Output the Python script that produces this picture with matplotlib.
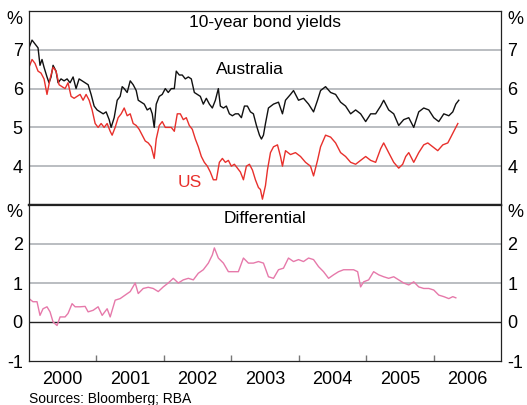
import numpy as np
import matplotlib
matplotlib.use('Agg')
import matplotlib.pyplot as plt

plt.rcParams['font.family'] = ['Liberation Sans', 'DejaVu Sans']
plt.rcParams['axes.unicode_minus'] = False

# 10-year bond yields, decimal years
aus_t = [2000.00, 2000.045, 2000.089, 2000.134, 2000.163, 2000.193, 2000.223, 2000.267, 2000.297, 2000.327,
         2000.357, 2000.401, 2000.431, 2000.475, 2000.520, 2000.565, 2000.609, 2000.654, 2000.698, 2000.743,
         2000.788, 2000.832, 2000.877, 2000.921, 2000.966, 2001.010, 2001.055, 2001.100, 2001.144, 2001.189,
         2001.218, 2001.263, 2001.308, 2001.352, 2001.382, 2001.412, 2001.456, 2001.501, 2001.545, 2001.590,
         2001.620, 2001.664, 2001.709, 2001.753, 2001.798, 2001.828, 2001.857, 2001.887, 2001.932, 2001.976,
         2002.021, 2002.065, 2002.110, 2002.155, 2002.184, 2002.229, 2002.273, 2002.318, 2002.363, 2002.407,
         2002.452, 2002.496, 2002.541, 2002.585, 2002.630, 2002.675, 2002.719, 2002.764, 2002.808, 2002.838,
         2002.883, 2002.927, 2002.972, 2003.016, 2003.061, 2003.105, 2003.150, 2003.195, 2003.239, 2003.284,
         2003.328, 2003.373, 2003.418, 2003.447, 2003.477, 2003.507, 2003.551, 2003.626, 2003.700, 2003.759,
         2003.804, 2003.878, 2003.923, 2003.997, 2004.071, 2004.146, 2004.220, 2004.279, 2004.324, 2004.398,
         2004.473, 2004.547, 2004.621, 2004.695, 2004.770, 2004.844, 2004.918, 2004.993, 2005.067, 2005.141,
         2005.215, 2005.260, 2005.334, 2005.409, 2005.483, 2005.557, 2005.632, 2005.706, 2005.780, 2005.854,
         2005.929, 2006.003, 2006.077, 2006.152, 2006.226, 2006.285, 2006.330, 2006.374]
aus = [7.05, 7.25, 7.15, 7.05, 6.6, 6.75, 6.55, 6.3, 6.15, 6.3,
       6.6, 6.45, 6.15, 6.25, 6.2, 6.25, 6.15, 6.3, 6.0, 6.25,
       6.2, 6.15, 6.1, 5.85, 5.55, 5.45, 5.4, 5.35, 5.4, 5.2,
       5.0, 5.25, 5.7, 5.8, 6.05, 6.0, 5.9, 6.2, 6.1, 5.95,
       5.7, 5.65, 5.6, 5.45, 5.5, 5.35, 5.0, 5.6, 5.8, 5.85,
       6.0, 5.9, 6.0, 6.0, 6.45, 6.35, 6.35, 6.25, 6.3, 6.25,
       5.9, 5.85, 5.8, 5.6, 5.75, 5.6, 5.5, 5.7, 6.0, 5.55,
       5.5, 5.55, 5.35, 5.3, 5.35, 5.35, 5.25, 5.55, 5.55, 5.4,
       5.35, 5.05, 4.8, 4.7, 4.8, 5.1, 5.5, 5.6, 5.65, 5.35,
       5.7, 5.85, 5.95, 5.7, 5.75, 5.6, 5.4, 5.7, 5.95, 6.05,
       5.9, 5.85, 5.65, 5.55, 5.35, 5.45, 5.35, 5.15, 5.35, 5.35,
       5.55, 5.7, 5.45, 5.35, 5.05, 5.2, 5.25, 5.0, 5.4, 5.5,
       5.45, 5.25, 5.15, 5.35, 5.3, 5.4, 5.6, 5.7]

us_t = [2000.00, 2000.045, 2000.089, 2000.134, 2000.178, 2000.223, 2000.267, 2000.312, 2000.357, 2000.401,
        2000.446, 2000.490, 2000.535, 2000.579, 2000.624, 2000.669, 2000.713, 2000.758, 2000.802, 2000.847,
        2000.892, 2000.936, 2000.981, 2001.025, 2001.070, 2001.114, 2001.159, 2001.204, 2001.233, 2001.278,
        2001.322, 2001.367, 2001.412, 2001.456, 2001.501, 2001.545, 2001.590, 2001.634, 2001.679, 2001.724,
        2001.768, 2001.813, 2001.857, 2001.887, 2001.932, 2001.976, 2002.021, 2002.065, 2002.110, 2002.155,
        2002.199, 2002.244, 2002.288, 2002.333, 2002.377, 2002.422, 2002.467, 2002.511, 2002.556, 2002.600,
        2002.645, 2002.689, 2002.734, 2002.779, 2002.823, 2002.868, 2002.912, 2002.957, 2003.001, 2003.046,
        2003.091, 2003.135, 2003.180, 2003.224, 2003.269, 2003.314, 2003.358, 2003.403, 2003.432, 2003.462,
        2003.507, 2003.536, 2003.581, 2003.626, 2003.685, 2003.730, 2003.759, 2003.804, 2003.878, 2003.952,
        2004.027, 2004.101, 2004.175, 2004.220, 2004.279, 2004.324, 2004.398, 2004.473, 2004.547, 2004.621,
        2004.695, 2004.770, 2004.844, 2004.918, 2004.993, 2005.067, 2005.141, 2005.215, 2005.260, 2005.334,
        2005.409, 2005.483, 2005.542, 2005.587, 2005.632, 2005.706, 2005.780, 2005.854, 2005.914, 2005.988,
        2006.062, 2006.137, 2006.211, 2006.256, 2006.300, 2006.360]
us = [6.55, 6.75, 6.65, 6.45, 6.4, 6.25, 5.85, 6.25, 6.55, 6.45,
      6.1, 6.05, 6.0, 6.15, 5.8, 5.75, 5.8, 5.85, 5.7, 5.85,
      5.7, 5.45, 5.1, 5.0, 5.1, 5.0, 5.1, 4.9, 4.8, 5.0,
      5.25, 5.35, 5.5, 5.3, 5.35, 5.1, 5.05, 4.95, 4.8, 4.65,
      4.6, 4.5, 4.2, 4.7, 5.05, 5.15, 5.0, 5.0, 5.0, 4.9,
      5.35, 5.35, 5.2, 5.25, 5.05, 4.95, 4.7, 4.5, 4.25, 4.1,
      4.0, 3.85, 3.65, 3.65, 4.1, 4.2, 4.1, 4.15, 4.0, 4.05,
      3.95, 3.85, 3.65, 4.0, 4.05, 3.9, 3.65, 3.45, 3.4, 3.15,
      3.5, 3.9, 4.35, 4.5, 4.55, 4.25, 4.0, 4.4, 4.3, 4.35,
      4.25, 4.1, 4.0, 3.75, 4.15, 4.5, 4.8, 4.75, 4.6, 4.35,
      4.25, 4.1, 4.05, 4.15, 4.25, 4.15, 4.1, 4.45, 4.6, 4.35,
      4.1, 3.95, 4.05, 4.25, 4.35, 4.1, 4.35, 4.55, 4.6, 4.5,
      4.4, 4.55, 4.6, 4.75, 4.9, 5.1]

diff_t = [2000.00, 2000.059, 2000.119, 2000.163, 2000.208, 2000.267, 2000.312, 2000.357, 2000.416, 2000.461,
          2000.535, 2000.579, 2000.639, 2000.684, 2000.758, 2000.832, 2000.877, 2000.951, 2001.025, 2001.085,
          2001.159, 2001.204, 2001.278, 2001.352, 2001.426, 2001.501, 2001.575, 2001.620, 2001.694, 2001.768,
          2001.842, 2001.917, 2001.991, 2002.065, 2002.140, 2002.214, 2002.288, 2002.363, 2002.437, 2002.511,
          2002.585, 2002.660, 2002.719, 2002.749, 2002.808, 2002.883, 2002.957, 2003.031, 2003.105, 2003.180,
          2003.254, 2003.328, 2003.403, 2003.477, 2003.551, 2003.626, 2003.700, 2003.774, 2003.848, 2003.923,
          2003.997, 2004.071, 2004.146, 2004.220, 2004.294, 2004.368, 2004.443, 2004.517, 2004.591, 2004.666,
          2004.740, 2004.814, 2004.874, 2004.918, 2004.963, 2005.037, 2005.111, 2005.186, 2005.260, 2005.334,
          2005.409, 2005.483, 2005.557, 2005.632, 2005.706, 2005.780, 2005.854, 2005.929, 2006.003, 2006.077,
          2006.152, 2006.226, 2006.285, 2006.330]
diff = [0.6, 0.52, 0.52, 0.17, 0.34, 0.39, 0.26, 0.0, -0.09, 0.13,
        0.13, 0.22, 0.47, 0.39, 0.39, 0.4, 0.26, 0.3, 0.39, 0.17,
        0.34, 0.13, 0.56, 0.6, 0.69, 0.78, 1.0, 0.73, 0.86, 0.89,
        0.86, 0.78, 0.9, 1.0, 1.12, 1.0, 1.08, 1.12, 1.08, 1.25,
        1.34, 1.51, 1.72, 1.9, 1.64, 1.51, 1.29, 1.29, 1.29, 1.64,
        1.51, 1.51, 1.55, 1.51, 1.16, 1.12, 1.34, 1.38, 1.64, 1.55,
        1.6, 1.55, 1.64, 1.6, 1.42, 1.29, 1.12, 1.21, 1.29, 1.34,
        1.34, 1.34, 1.29, 0.9, 1.03, 1.08, 1.29, 1.21, 1.16, 1.12,
        1.16, 1.08, 1.0, 0.95, 1.03, 0.9, 0.86, 0.86, 0.82, 0.69,
        0.65, 0.6, 0.65, 0.62]

years = [2000, 2001, 2002, 2003, 2004, 2005, 2006]
top_ticks = [4, 5, 6, 7]
bot_ticks = [-1, 0, 1, 2]

GRID = '#b4b8bc'
RED = '#e8302c'
PINK = '#e679aa'

fig = plt.figure(figsize=(5.27, 4.05), dpi=100)
L, W = 29 / 527, 472 / 527
ax1 = fig.add_axes([L, 200 / 405, W, 194 / 405])
ax2 = fig.add_axes([L, 44 / 405, W, 156 / 405])

for ax, ticks, lims in [(ax1, top_ticks, (3, 8)), (ax2, bot_ticks, (-1, 3))]:
    ax.set_xlim(2000, 2007)
    ax.set_ylim(*lims)
    ax.set_yticks(ticks)
    ax.tick_params(axis='y', length=0, labelsize=13, pad=4.5,
                   labelleft=True, labelright=True, right=False)
    for t in ticks:
        if lims[0] < t < lims[1] and t != 0:
            ax.axhline(t, color=GRID, lw=1.3, zorder=0)
    for s in ax.spines.values():
        s.set_color('#222222')
        s.set_linewidth(0.9)

ax1.spines['bottom'].set_linewidth(1.6)
ax2.spines['top'].set_linewidth(1.6)
ax2.axhline(0, color='#222222', lw=1.0, zorder=1)

ax1.plot(aus_t, aus, color='#111111', lw=1.0)
ax1.plot(us_t, us, color=RED, lw=1.0)
ax2.plot(diff_t, diff, color=PINK, lw=1.0)

ax1.set_xticks([])
ax2.set_xticks(years[1:])
ax2.tick_params(axis='x', which='major', direction='in', length=4.5,
                color='#777777', width=1.0, labelbottom=False)
ax2.set_xticks([y + 0.5 for y in years], minor=True)
ax2.set_xticklabels([str(y) for y in years], minor=True)
ax2.tick_params(axis='x', which='minor', length=0, pad=7, labelsize=13)

ax1.text(0.5, 0.94, '10-year bond yields', transform=ax1.transAxes,
         ha='center', va='center', fontsize=12.5)
ax2.text(0.5, 0.915, 'Differential', transform=ax2.transAxes,
         ha='center', va='center', fontsize=12.5)
ax1.text(2003.27, 6.49, 'Australia', ha='center', va='center', fontsize=12.5)
ax1.text(2002.39, 3.59, 'US', ha='center', va='center', fontsize=12.5, color=RED)

for ax, yv in [(ax1, 7.77), (ax2, 2.8)]:
    ax.annotate('%', xy=(0, yv), xycoords=('axes fraction', 'data'),
                xytext=(-4.5, 0), textcoords='offset points',
                ha='right', va='center', fontsize=13)
    ax.annotate('%', xy=(1, yv), xycoords=('axes fraction', 'data'),
                xytext=(4.5, 0), textcoords='offset points',
                ha='left', va='center', fontsize=13)

fig.text(29 / 527, 1 - 399 / 405, 'Sources: Bloomberg; RBA', ha='left', va='center',
         fontsize=10)

fig.savefig('out.png', dpi=100)
